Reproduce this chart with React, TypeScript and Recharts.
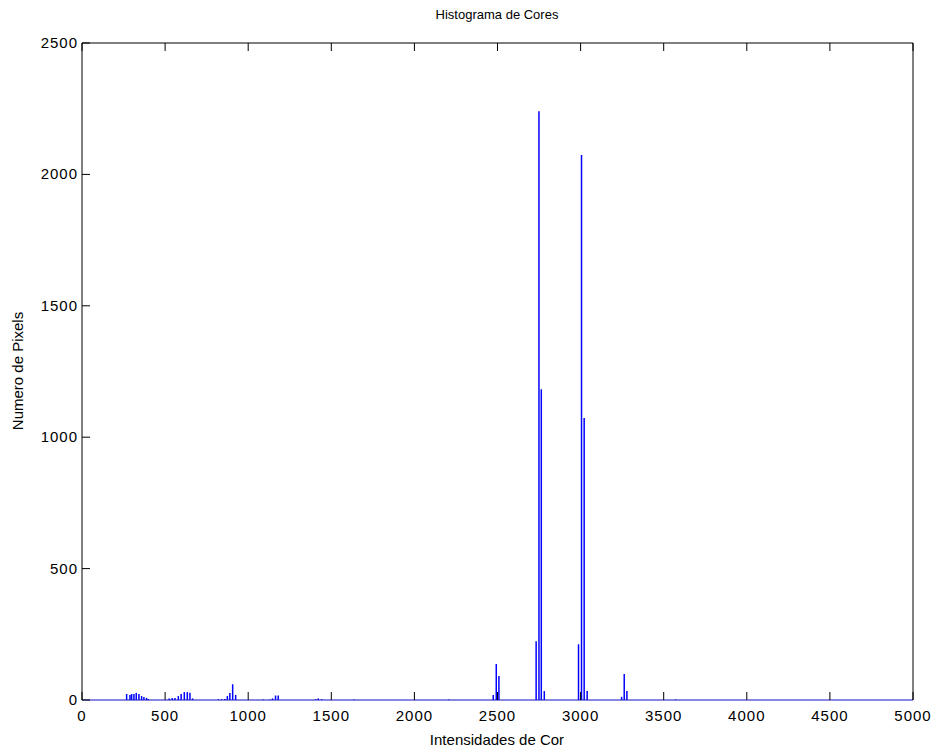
import React from "react";
import { BarChart, Bar, XAxis, YAxis, Label } from "recharts";

// bin centres (colour intensity) and pixel counts
const bins = [
  269, 289, 299, 313, 327, 343, 359, 373, 389, 399,
  525, 543, 560, 580, 597, 616, 634, 650, 666,
  820, 840, 860, 875, 890, 907, 925,
  1091, 1131, 1147, 1165, 1181,
  1406, 1422, 1442, 1637, 2207,
  2475, 2493, 2509,
  2733, 2750, 2764, 2782,
  2988, 3006, 3022, 3040,
  3247, 3263, 3279, 3572,
];
const counts = [
  23, 19, 23, 23, 27, 23, 15, 11, 8, 4,
  6, 8, 8, 15, 23, 30, 30, 28, 6,
  3, 3, 4, 15, 27, 60, 19,
  2, 2, 6, 17, 17,
  3, 6, 3, 2, 2,
  19, 137, 91,
  224, 2240, 1182, 34,
  212, 2074, 1073, 34,
  12, 99, 34, 2,
];
const xTicks = [0, 500, 1000, 1500, 2000, 2500, 3000, 3500, 4000, 4500, 5000];
const yTicks = [0, 500, 1000, 1500, 2000, 2500];

const data = bins.map((b, i) => ({ bin: b, count: counts[i] }));

const font = "'Liberation Sans', Arial, Helvetica, sans-serif";
const TICK = 8;

const BottomTick = ({ x, y, payload }: any) => (
  <g>
    <line x1={x} y1={y} x2={x} y2={y - TICK} stroke="#000" />
    <text x={x} y={y + 21} textAnchor="middle" fontSize={15} letterSpacing={1} fill="#000" fontFamily={font}>
      {payload.value}
    </text>
  </g>
);
const LeftTick = ({ x, y, payload }: any) => (
  <g>
    <line x1={x} y1={y} x2={x + TICK} y2={y} stroke="#000" />
    <text x={x - 4} y={y + 5} textAnchor="end" fontSize={15} letterSpacing={1} fill="#000" fontFamily={font}>
      {payload.value}
    </text>
  </g>
);

export default function App() {
  return (
    <div style={{ position: "absolute", left: 0, top: 0, width: 938, height: 749, background: "#fff" }}>
      <BarChart
        width={938}
        height={749}
        data={data}
        margin={{ top: 43, right: 25, bottom: 0, left: 0 }}
        barGap={0}
      >
        <XAxis
          xAxisId="bottom"
          dataKey="bin"
          type="number"
          domain={[0, 5000]}
          ticks={xTicks}
          allowDataOverflow
          height={49}
          tickSize={0}
          tickMargin={0}
          tick={<BottomTick />}
          axisLine={{ stroke: "#1010c0" }}
        >
          <Label
            content={() => (
              <text x={497} y={745} textAnchor="middle" fontSize={15} fill="#000" fontFamily={font}>
                Intensidades de Cor
              </text>
            )}
          />
        </XAxis>
        <XAxis
          xAxisId="top"
          orientation="top"
          dataKey="bin"
          type="number"
          domain={[0, 5000]}
          ticks={xTicks}
          allowDataOverflow
          height={1}
          mirror
          tickSize={TICK}
          tickFormatter={() => ""}
          tickLine={{ stroke: "#000" }}
          axisLine={{ stroke: "#000" }}
        />
        <YAxis
          yAxisId="left"
          type="number"
          domain={[0, 2500]}
          ticks={yTicks}
          width={82}
          tickSize={0}
          tickMargin={0}
          tick={<LeftTick />}
          axisLine={{ stroke: "#000" }}
        >
          <Label
            content={() => (
              <text
                x={23}
                y={371}
                textAnchor="middle"
                fontSize={15}
                fill="#000"
                fontFamily={font}
                transform="rotate(-90 23 371)"
              >
                Numero de Pixels
              </text>
            )}
          />
          <Label
            content={() => (
              <text x={497} y={19} textAnchor="middle" fontSize={13} fill="#000" fontFamily={font}>
                Histograma de Cores
              </text>
            )}
          />
        </YAxis>
        <YAxis
          yAxisId="right"
          orientation="right"
          type="number"
          domain={[0, 2500]}
          ticks={yTicks}
          width={1}
          mirror
          tickSize={TICK}
          tickFormatter={() => ""}
          tickLine={{ stroke: "#000" }}
          axisLine={{ stroke: "#000" }}
        />
        <Bar
          dataKey="count"
          xAxisId="bottom"
          yAxisId="left"
          fill="#0000ff"
          barSize={2}
          isAnimationActive={false}
        />
      </BarChart>
    </div>
  );
}
